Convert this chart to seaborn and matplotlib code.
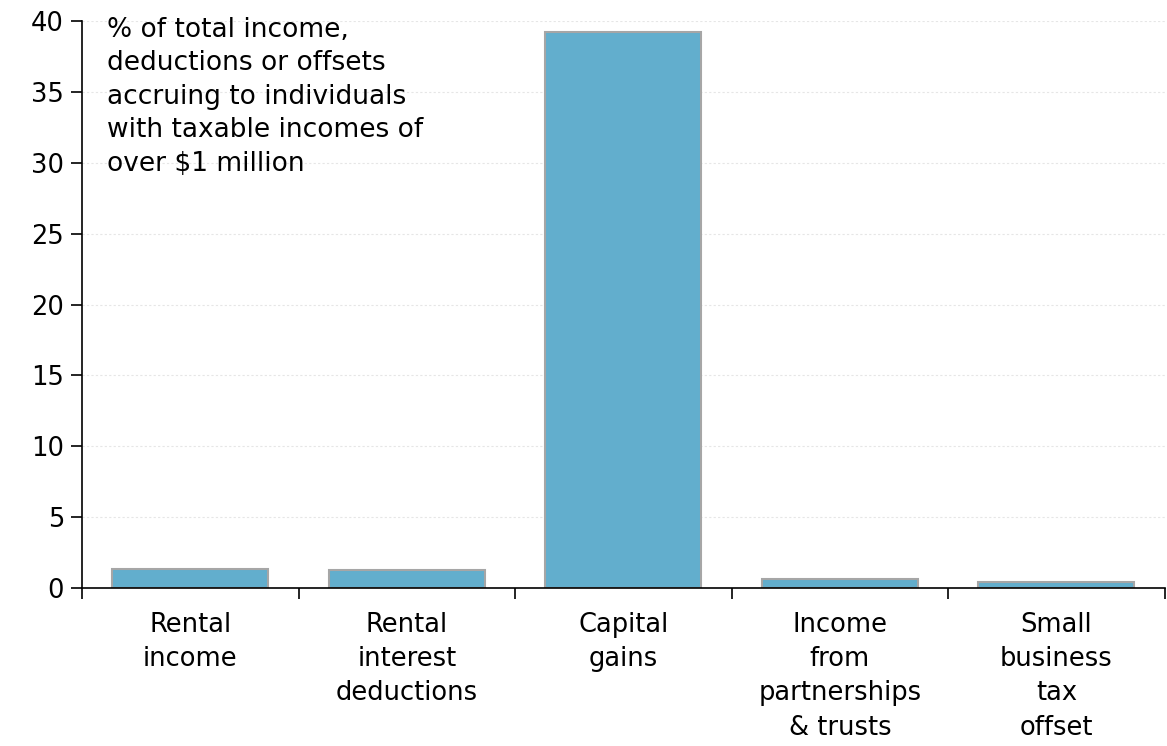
import matplotlib
matplotlib.use("Agg")
import matplotlib.pyplot as plt
import seaborn as sns
import pandas as pd

categories = ["Rental\nincome", "Rental\ninterest\ndeductions", "Capital\ngains",
              "Income\nfrom\npartnerships\n& trusts", "Small\nbusiness\ntax\noffset"]
shares = [1.35, 1.25, 39.2, 0.65, 0.45]
y_ticks = [0, 5, 10, 15, 20, 25, 30, 35, 40]

sns.set_theme(style="white")
plt.rcParams["font.family"] = ["DejaVu Sans"]
plt.rcParams["text.color"] = "black"

df = pd.DataFrame({"category": categories, "share": shares})

fig = plt.figure(figsize=(11.67, 7.46), dpi=100)
ax = fig.add_axes([0.0703, 0.2118, 0.9277, 0.76])

sns.barplot(data=df, x="category", y="share", ax=ax, color="#62aecd",
            saturation=1, width=0.72, edgecolor="#a6a6a6", linewidth=1.5)

ax.set_ylim(0, 40)
ax.set_xlim(-0.5, 4.5)
ax.set_yticks(y_ticks)
ax.set_yticklabels([str(v) for v in y_ticks], fontsize=18.5, color="black")
ax.yaxis.grid(True, color="#e6e6e6", linestyle=(0, (2, 2)), linewidth=0.8)
ax.set_axisbelow(True)

# category boundary ticks on the x axis, labels centred under bars
ax.set_xticks([i - 0.5 for i in range(len(categories) + 1)])
ax.set_xticklabels([])
ax.set_xticks(range(len(categories)), minor=True)
ax.set_xticklabels(categories, minor=True, fontsize=18.5, linespacing=1.42, color="black")
ax.tick_params(axis="x", which="major", direction="out", length=8, width=1.2, color="black", bottom=True)
ax.tick_params(axis="x", which="minor", length=0, pad=17)
ax.tick_params(axis="y", direction="out", length=8, width=1.2, color="black", left=True, pad=5)

for side in ["top", "right"]:
    ax.spines[side].set_visible(False)
ax.spines["left"].set_color("black")
ax.spines["bottom"].set_color("black")
ax.spines["left"].set_linewidth(1.2)
ax.spines["bottom"].set_linewidth(1.2)

ax.set_xlabel("")
ax.set_ylabel("")

ax.text(0.023, 1.008, "% of total income,\ndeductions or offsets\naccruing to individuals\nwith taxable incomes of\nover $1 million",
        transform=ax.transAxes, fontsize=19, va="top", ha="left", linespacing=1.38, color="black")

fig.savefig("out.png", dpi=100)
